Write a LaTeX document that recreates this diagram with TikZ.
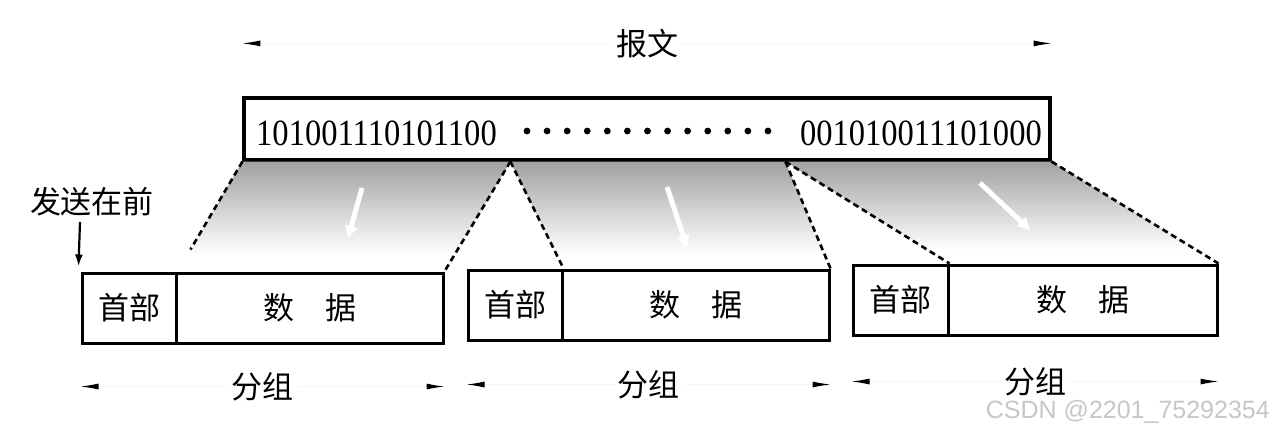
\documentclass[tikz,border=0pt]{standalone}
\usepackage{fontspec}
\setmainfont{Liberation Serif}
\newfontfamily\cjk{Noto Sans CJK SC}
\newfontfamily\digitfont{Liberation Serif}[FakeStretch=0.88]
\newfontfamily\wmfont{Liberation Sans}
\usetikzlibrary{arrows.meta,calc}
\begin{document}
\begin{tikzpicture}[x=1pt,y=-1pt,
  box/.style={draw, line width=3pt, inner sep=0pt, minimum height=70pt, font=\cjk\fontsize{31}{31}\selectfont},
  cut/.style={dash pattern=on 6pt off 4pt, line width=2.6pt},
  span/.style={draw=black!4, line width=1pt, {Latex[length=18pt,width=6pt,color=black]}-{Latex[length=18pt,width=6pt,color=black]}},
  lbl/.style={font=\cjk\fontsize{31}{31}\selectfont, inner sep=0pt},
  digits/.style={font=\digitfont\fontsize{37}{37}\selectfont, inner sep=0pt},
  hint/.style={white, line width=5pt, -{Triangle[length=12pt,width=12pt]}},
  fade/.style={top color=black!38, bottom color=white}]
\fill[white] (0,0) rectangle (1275,432);
\useasboundingbox (0,0) rectangle (1275,432);

% message box
\node[draw, line width=3.2pt, minimum width=806pt, minimum height=62pt, inner sep=0pt] (msg) at (647,129) {};
\node[digits, anchor=base west] (b1) at (256,145) {101001110101100};
\node[digits, anchor=base east] (b2) at (1042,145) {001010011101000};
\foreach \i in {0,...,12} \fill (527+\i*20.08,131) circle[radius=3.4pt];

% packets
\node[box, minimum width=94pt]  (p1h) at (129,308)   {首部};
\node[box, minimum width=267pt] (p1d) at (309.5,308) {数\hspace{1em}据};
\node[box, minimum width=94pt]  (p2h) at (515,305)   {首部};
\node[box, minimum width=267pt] (p2d) at (695.5,305) {数\hspace{1em}据};
\node[box, minimum width=95pt]  (p3h) at (900.5,300) {首部};
\node[box, minimum width=269pt] (p3d) at (1082.5,300) {数\hspace{1em}据};

\coordinate (s1) at ($(msg.south west)+(268,0)$);
\coordinate (s2) at ($(msg.south west)+(543,0)$);

% shaded regions
\begin{scope}
  \clip (msg.south west) -- (s1) -- (p1d.north east) -- (p1h.north east) -- cycle;
  \shade[fade] (0,158) rectangle (1275,254);
\end{scope}
\begin{scope}
  \clip (s1) -- (s2) -- (p2d.north east) -- (p2h.north east) -- cycle;
  \shade[fade] (0,158) rectangle (1275,254);
\end{scope}
\begin{scope}
  \clip (s2) -- (msg.south east) -- (p3d.north east) -- (p3h.north east) -- cycle;
  \shade[fade] (0,158) rectangle (1275,250);
\end{scope}

% faint white arrows
\draw[hint] (362,188) -- (348,238);
\draw[hint] (667,187) -- (687,247);
\draw[hint] (980,183) -- (1030,230);

% dashed cut lines
\draw[cut] (msg.south west) -- ($(msg.south west)!0.8!(p1h.north east)$);
\draw[cut] (s1) -- (p1d.north east);
\draw[cut] (s1) -- (p2h.north east);
\draw[cut] (s2) -- (p2d.north east);
\draw[cut] (s2) -- (p3h.north east);
\draw[cut] (msg.south east) -- (p3d.north east);

% top span
\draw[span] ([yshift=53pt]msg.north west) -- node[lbl, fill=white, inner xsep=4pt] (msgl) {报文} ([yshift=53pt]msg.north east);

% bottom spans
\draw[span] ([yshift=-42pt]p1h.south west) -- node[lbl, fill=white, inner xsep=4pt] (g1) {分组} ([yshift=-42pt]p1d.south east);
\draw[span] ([yshift=-43pt]p2h.south west) -- node[lbl, fill=white, inner xsep=4pt] (g2) {分组} ([yshift=-43pt]p2d.south east);
\draw[span] ([yshift=-45pt]p3h.south west) -- node[lbl, fill=white, inner xsep=4pt] (g3) {分组} ([yshift=-45pt]p3d.south east);

% send first
\node[lbl] (snd) at (92,202) {发送在前};
\coordinate (tail) at (80,222);
\coordinate (tip) at ([xshift=-2pt,yshift=5pt]p1h.north west);
\draw[line width=2.2pt, -{Latex[length=12pt,width=8pt]}] (tail) -- (tip);

% watermark
\node[font=\wmfont\fontsize{25}{25}\selectfont, text=black!22, anchor=base east, inner sep=0pt] (wm) at (1270,418) {CSDN @2201\_75292354};
\end{tikzpicture}
\end{document}
